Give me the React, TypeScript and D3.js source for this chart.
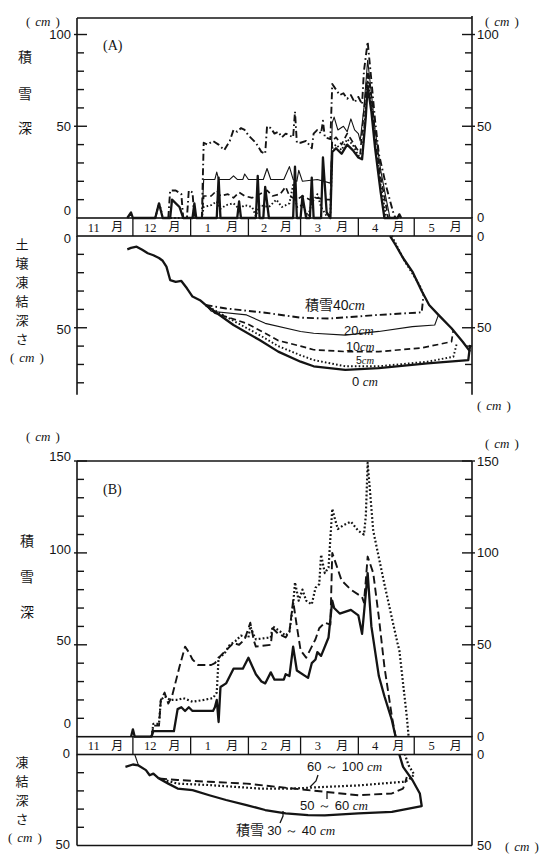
import React from 'react';
import * as d3 from 'd3';

type P = [string, number];

// ---------- categories / ticks ----------
const monthNames = ['11', '12', '1', '2', '3', '4', '5'];
const monthStarts = ['11-01', '12-01', '01-01', '02-01', '03-01', '04-01', '05-01', '06-01'];
const snowATicks = [10, 20, 30, 40, 50, 60, 70, 80, 90, 100];
const snowATickLabels = [0, 50, 100];
const frostATicks = [10, 20, 30, 40, 50, 60, 70, 80];
const frostATickLabels = [0, 50];
const snowBTicks = [10, 20, 30, 40, 50, 60, 70, 80, 90, 100, 110, 120, 130, 140, 150];
const snowBTickLabels = [0, 50, 100, 150];
const frostBTicks = [10, 20, 30, 40];
const frostBTickLabels = [0, 50];

// ---------- Panel A : snow depth (cm) ----------
const snowA40: P[] = [["12-20",0],["12-21",15],["12-24",15],["12-27",13],["12-28",0],["12-30",0],["12-31",15],["01-02",14],["01-03",0],["01-07",0],["01-08",41],["01-10",40],["01-13",42],["01-16",40],["01-19",37],["01-22",42],["01-24",48],["01-26",47],["01-28",49],["01-30",48],["02-01",45],["02-03",43],["02-05",41],["02-08",36],["02-10",35],["02-11",50],["02-13",49],["02-15",46],["02-17",47],["02-19",44],["02-21",46],["02-23",45],["02-25",44],["02-26",58],["02-27",41],["03-01",41],["03-04",42],["03-07",38],["03-08",46],["03-10",48],["03-12",46],["03-13",53],["03-14",44],["03-17",43],["03-18",73],["03-20",70],["03-22",67],["03-24",68],["03-26",65],["03-28",67],["03-30",63],["04-01",66],["04-03",62],["04-04",80],["04-06",96],["04-08",75],["04-10",53],["04-12",35],["04-16",17],["04-20",2],["04-21",0]];
const snowA20: P[] = [["01-07",0],["01-08",21],["01-14",21],["01-15",25],["01-16",21],["01-22",21],["01-24",23],["01-26",21],["01-29",21],["01-30",24],["02-01",21],["02-09",21],["02-11",27],["02-13",21],["02-20",21],["02-23",28],["02-25",21],["02-27",20],["02-28",26],["03-02",20],["03-10",21],["03-17",19],["03-18",52],["03-19",55],["03-21",48],["03-24",50],["03-26",47],["03-28",54],["03-30",48],["04-01",46],["04-02",42],["04-04",60],["04-06",86],["04-08",68],["04-10",48],["04-13",26],["04-16",10],["04-18",0]];
const snowA10: P[] = [["01-07",0],["01-08",12],["01-12",12],["01-15",15],["01-17",12],["01-21",13],["01-24",11],["01-27",14],["01-30",12],["02-03",11],["02-07",13],["02-11",15],["02-14",12],["02-18",13],["02-21",17],["02-23",12],["02-27",10],["03-02",12],["03-06",10],["03-10",11],["03-14",10],["03-17",10],["03-18",42],["03-20",44],["03-23",40],["03-26",46],["03-28",43],["03-31",38],["04-02",35],["04-04",58],["04-06",80],["04-08",66],["04-10",43],["04-13",22],["04-16",6],["04-17",0]];
const snowA5: P[] = [["12-13",0],["12-15",8],["12-16",5],["12-17",0],["01-07",0],["01-08",6],["01-12",7],["01-15",9],["01-17",5],["01-20",7],["01-24",8],["01-27",5],["01-30",7],["02-03",6],["02-05",1],["02-07",7],["02-12",6],["02-16",10],["02-19",6],["02-23",8],["02-25",18],["02-27",6],["03-02",7],["03-05",1],["03-07",8],["03-10",13],["03-12",6],["03-15",1],["03-17",2],["03-18",38],["03-20",40],["03-23",37],["03-26",43],["03-29",40],["04-01",34],["04-03",33],["04-05",60],["04-06",75],["04-08",62],["04-10",40],["04-13",18],["04-16",0]];
const snowA0: P[] = [["11-28",0],["11-30",3],["12-01",0],["12-13",0],["12-15",8],["12-17",0],["12-21",0],["12-22",10],["12-26",6],["12-28",0],["01-02",0],["01-03",8],["01-04",0],["01-15",0],["01-16",22],["01-17",0],["01-26",0],["01-27",9],["01-28",0],["02-05",0],["02-06",23],["02-07",0],["02-09",0],["02-10",17],["02-12",0],["02-25",0],["02-26",28],["02-27",0],["03-01",0],["03-02",12],["03-04",0],["03-06",0],["03-07",22],["03-08",0],["03-12",0],["03-13",33],["03-15",3],["03-17",0],["03-18",36],["03-20",38],["03-23",35],["03-26",40],["03-29",37],["04-01",33],["04-03",32],["04-05",55],["04-06",72],["04-08",58],["04-10",38],["04-13",14],["04-15",0],["04-22",0],["04-23",2],["04-24",0]];

// ---------- Panel A : frost depth (cm) ----------
const frostAShared: P[] = [["11-28",7.3],["11-30",6.5],["12-03",5.8],["12-06",7.5],["12-09",9.4],["12-12",10.5],["12-15",12],["12-17",13.5],["12-19",16.7],["12-21",24],["12-24",25],["12-27",24.5],["12-30",28.5],["01-02",33],["01-06",35],["01-09",37.6]];
const frostA40: P[] = [["01-09",37.6],["01-20",39.5],["02-10",41.8],["03-01",44.5],["03-16",45],["04-12",43],["05-05",41.6],["05-06",32]];
const frostA20: P[] = [["01-09",37.6],["01-12",41],["01-31",43],["02-10",47.6],["03-01",52],["03-08",53],["03-25",54],["04-12",52],["04-30",49.4],["05-12",48.5],["05-14",43]];
const frostA10: P[] = [["01-09",37.6],["01-14",42],["01-31",47.6],["02-10",53],["02-17",57],["03-01",60],["03-08",62],["03-25",63],["04-12",63],["05-05",61],["05-21",57.6],["05-22",51]];
const frostA5: P[] = [["01-09",37.6],["01-20",44],["02-07",54],["02-17",60],["03-01",65],["03-08",67.6],["03-25",71],["04-12",71],["05-08",68.5],["05-22",65.8],["05-24",58]];
const frostA0: P[] = [["01-09",37.6],["01-24",48.5],["02-07",56.7],["02-17",63],["03-01",68.5],["03-08",71],["03-25",73],["04-12",72],["05-08",69.4],["05-30",67.6],["05-31",59.4]];
const frostAThaw: P[] = [["04-18",0],["04-21",4.9],["04-25",12],["04-30",19.4],["05-05",30],["05-09",37.6],["05-14",43],["05-21",50.3],["05-27",57.6],["05-31",63]];
const frostAThaw2: P[] = [["04-19",0],["04-22",6],["04-26",14],["05-01",22],["05-04",27],["05-06",32]];

// ---------- Panel B : snow depth (cm) ----------
const snowBSolid: P[] = [["11-30",0],["12-01",4],["12-02",0],["12-11",0],["12-12",3],["12-23",3],["12-25",15],["12-27",16],["12-29",14],["12-31",16],["01-02",14],["01-13",14],["01-14",16],["01-15",20],["01-16",8],["01-17",27],["01-20",29],["01-24",37],["01-29",37],["02-01",43],["02-05",34],["02-08",30],["02-10",29],["02-13",35],["02-15",31],["02-20",31],["02-21",34],["02-23",33],["02-25",49],["02-27",36],["03-05",32],["03-07",40],["03-09",42],["03-10",46],["03-12",44],["03-16",54],["03-18",74],["03-19",70],["03-22",67],["03-28",69],["04-01",66],["04-03",56],["04-05",78],["04-06",89],["04-08",60],["04-12",33],["04-15",22],["04-19",9],["04-21",0]];
const snowBDashed: P[] = [["12-11",0],["12-12",6],["12-15",6],["12-16",20],["12-18",24],["12-20",18],["12-22",22],["12-26",38],["12-29",49],["12-31",46],["01-02",42],["01-05",39],["01-12",39],["01-14",40],["01-17",44],["01-20",47],["01-24",51],["01-27",50],["01-30",53],["02-02",62],["02-04",52],["02-05",49],["02-13",50],["02-14",59],["02-17",56],["02-21",54],["02-23",57],["02-25",74],["02-27",60],["03-01",47],["03-04",43],["03-07",49],["03-09",53],["03-11",59],["03-14",62],["03-17",61],["03-18",100],["03-20",94],["03-23",85],["03-28",80],["04-03",76],["04-04",73],["04-05",85],["04-06",98],["04-09",89],["04-12",65],["04-15",38],["04-19",11],["04-21",0]];
const snowBDotted: P[] = [["12-11",0],["12-12",7],["12-15",7],["12-16",20],["12-18",22],["12-21",20],["12-25",20],["12-28",21],["01-02",19],["01-08",20],["01-13",21],["01-15",24],["01-16",43],["01-19",45],["01-22",50],["01-25",52],["01-28",55],["02-01",54],["02-02",60],["02-04",55],["02-05",53],["02-13",54],["02-14",60],["02-17",58],["02-21",55],["02-23",57],["02-25",72],["02-26",84],["02-28",74],["03-02",80],["03-04",74],["03-07",72],["03-09",81],["03-11",83],["03-12",99],["03-14",89],["03-16",92],["03-18",124],["03-19",120],["03-21",113],["03-24",115],["03-28",117],["04-01",112],["04-04",110],["04-05",120],["04-06",149],["04-09",112],["04-15",83],["04-20",60],["04-22",51],["04-23",47],["04-25",29],["04-27",11],["04-28",0]];

// ---------- Panel B : frost depth (cm) ----------
const frostBStart: P[] = [["12-02",0],["12-03",3],["12-04",6]];
const frostBShared: P[] = [["11-27",6.8],["12-01",5.5],["12-04",6],["12-08",8.6],["12-10",11.4],["12-12",10.5],["12-15",13.2]];
const frostBSolid: P[] = [["12-15",13.2],["12-20",16],["12-25",18.7],["01-02",19.6],["01-11",22.4],["01-20",25],["01-31",27.8],["02-10",30.5],["02-21",32.4],["03-05",33.3],["03-14",33.5],["04-01",32.4],["04-19",31.5],["05-05",28.3],["05-04",21.4],["04-30",14],["04-25",6.8],["04-23",0]];
const frostBDashed: P[] = [["12-15",13.2],["12-25",14],["01-11",15],["01-31",16],["02-25",18.7],["03-14",20.5],["04-01",22.4],["04-19",21.4],["04-25",18.7],["04-26",16],["04-27",12.3]];
const frostBDotted: P[] = [["12-15",13.2],["12-25",16],["01-11",16.8],["02-07",18.7],["02-25",18.7],["03-14",17.8],["04-01",17],["04-25",15],["04-28",14],["05-01",11],["04-28",6],["04-26",0]];

// ---------- helpers ----------
const parse = (s: string) => {
  const [m, d] = s.split('-').map(Number);
  return new Date(m >= 11 ? 1980 : 1981, m - 1, d);
};

const X0 = 77, X1 = 472;
const x = d3.scaleTime().domain([parse('11-01'), parse('06-01')]).range([X0, X1]);
const ySnowA = d3.scaleLinear().domain([0, 109]).range([218, 18]);
const yFrostA = d3.scaleLinear().domain([0, 50]).range([236, 327.75]);
const ySnowB = d3.scaleLinear().domain([0, 150]).range([736.7, 461]);
const yFrostB = d3.scaleLinear().domain([0, 50]).range([754.5, 845.5]);

const INK = '#141414';
const SANS = '"Liberation Sans", Arial, sans-serif';
const SERIF = '"Liberation Serif", "DejaVu Serif", serif';
const CJK = '"Noto Sans CJK JP", sans-serif';

const styles: Record<string, { w: number; dash?: string }> = {
  thick: { w: 2.3 },
  thin: { w: 1.1 },
  dashdot: { w: 1.9, dash: '7,3,1.6,3' },
  dashed: { w: 1.7, dash: '6,3.5' },
  dotted: { w: 1.9, dash: '1.6,2.2' },
  bdashed: { w: 1.9, dash: '8,4' },
  bdotted: { w: 2.2, dash: '1.8,2.2' },
};

function Series({ data, y, kind }: { data: P[]; y: d3.ScaleLinear<number, number>; kind: string }) {
  const gen = d3.line<P>().x(p => x(parse(p[0]))).y(p => y(p[1])).curve(d3.curveLinear);
  const st = styles[kind];
  return <path d={gen(data) || ''} fill="none" stroke={INK} strokeWidth={st.w} strokeDasharray={st.dash} strokeLinejoin="round" />;
}

function VAxis({ xPos, y, ticks, side, y0, y1 }: { xPos: number; y: d3.ScaleLinear<number, number>; ticks: number[]; side: 'left' | 'right'; y0: number; y1: number }) {
  const dir = side === 'left' ? 1 : -1;
  return (
    <g>
      <line x1={xPos} x2={xPos} y1={y0} y2={y1} stroke={INK} strokeWidth={1.6} />
      {ticks.map(t => {
        const major = t % 50 === 0;
        return <line key={t} x1={xPos - (major ? 3 : 0) * dir} x2={xPos + (major ? 10 : 7) * dir} y1={y(t)} y2={y(t)} stroke={INK} strokeWidth={1.4} />;
      })}
    </g>
  );
}

function Cm({ x0, yc, size = 13 }: { x0: number; yc: number; size?: number }) {
  return (
    <text x={x0} y={yc} dy="0.35em" fontFamily={SERIF} fontSize={size} fill={INK}>
      (<tspan dx={5} fontStyle="italic">cm</tspan><tspan dx={5}>)</tspan>
    </text>
  );
}

function MonthStrip({ top, bottom }: { top: number; bottom: number }) {
  const dates = monthStarts.map(parse);
  return (
    <g>
      <rect x={X0} y={top} width={X1 - X0} height={bottom - top} fill="none" stroke={INK} strokeWidth={1.6} />
      {dates.slice(1, -1).map((d, i) => (
        <line key={i} x1={x(d)} x2={x(d)} y1={top} y2={bottom} stroke={INK} strokeWidth={1.3} />
      ))}
      {monthNames.map((m, i) => {
        const a = x(dates[i]);
        const b = x(dates[i + 1]);
        const yb = (top + bottom) / 2;
        return (
          <g key={m}>
            <text x={a + (b - a) * 0.3} y={yb} dy="0.36em" textAnchor="middle" fontFamily={SERIF} fontSize={12.5} fill={INK}>{m}</text>
            <text x={a + (b - a) * 0.72} y={yb} dy="0.36em" textAnchor="middle" fontFamily={CJK} fontSize={12} fill={INK}>月</text>
          </g>
        );
      })}
    </g>
  );
}

function VText({ chars, xc, ys, size = 13 }: { chars: string[]; xc: number; ys: number[]; size?: number }) {
  return (
    <g>
      {chars.map((c, i) => (
        <text key={i} x={xc} y={ys[i]} dy="0.36em" textAnchor="middle" fontFamily={CJK} fontSize={size} fill={INK}>{c}</text>
      ))}
    </g>
  );
}

function NumLabel({ xp, yp, v, anchor }: { xp: number; yp: number; v: number | string; anchor: 'start' | 'end' }) {
  return <text x={xp} y={yp} dy="0.35em" textAnchor={anchor} fontFamily={SANS} fontSize={13} fill={INK}>{v}</text>;
}

export default function App() {
  const leftLabelOffsetA: Record<number, number> = { 0: -8, 50: 0, 100: 0 };
  const leftLabelOffsetB: Record<number, number> = { 0: -13, 50: -4, 100: -3, 150: -5 };
  return (
    <svg width={543} height={854} viewBox="0 0 543 854" style={{ position: 'absolute', left: 0, top: 0, background: '#fff' }}>
      <rect x={0} y={0} width={543} height={854} fill="#fff" />

      {/* ================= Panel A ================= */}
      <line x1={X0} x2={X1} y1={18} y2={18} stroke={INK} strokeWidth={1.6} />
      <VAxis xPos={X0} y={ySnowA} ticks={snowATicks} side="left" y0={18} y1={218} />
      <VAxis xPos={X1} y={ySnowA} ticks={snowATicks} side="right" y0={16} y1={218} />
      <VAxis xPos={X0} y={yFrostA} ticks={frostATicks} side="left" y0={236} y1={yFrostA(86.5)} />
      <VAxis xPos={X1} y={yFrostA} ticks={frostATicks} side="right" y0={236} y1={yFrostA(86.5)} />
      <MonthStrip top={218} bottom={236} />

      {snowATickLabels.map(t => <NumLabel key={'al' + t} xp={71} yp={ySnowA(t) + leftLabelOffsetA[t]} v={t} anchor="end" />)}
      {snowATickLabels.map(t => <NumLabel key={'ar' + t} xp={477} yp={ySnowA(t) - (t === 0 ? 1 : 0)} v={t} anchor="start" />)}
      {frostATickLabels.map(t => <NumLabel key={'fal' + t} xp={71} yp={yFrostA(t) + 2} v={t} anchor="end" />)}
      {frostATickLabels.map(t => <NumLabel key={'far' + t} xp={477} yp={yFrostA(t)} v={t} anchor="start" />)}

      <Cm x0={26} yc={21} />
      <Cm x0={485} yc={21} />
      <Cm x0={477} yc={405} />
      <Cm x0={10} yc={357} />
      <VText chars={['積', '雪', '深']} xc={25} ys={[57, 94, 128]} size={14} />
      <VText chars={['土', '壌', '凍', '結', '深', 'さ']} xc={22} ys={[244, 263, 282, 301, 320, 339]} size={13} />
      <text x={103} y={50} fontFamily={SERIF} fontSize={14} fill={INK}>(A)</text>

      <Series data={snowA0} y={ySnowA} kind="thick" />
      <Series data={snowA5} y={ySnowA} kind="dotted" />
      <Series data={snowA10} y={ySnowA} kind="dashed" />
      <Series data={snowA20} y={ySnowA} kind="thin" />
      <Series data={snowA40} y={ySnowA} kind="dashdot" />

      <Series data={frostAShared} y={yFrostA} kind="thick" />
      <Series data={frostA40} y={yFrostA} kind="dashdot" />
      <Series data={frostA20} y={yFrostA} kind="thin" />
      <Series data={frostA10} y={yFrostA} kind="dashed" />
      <Series data={frostA5} y={yFrostA} kind="dotted" />
      <Series data={frostA0} y={yFrostA} kind="thick" />
      <Series data={frostAThaw} y={yFrostA} kind="thick" />
      <Series data={frostAThaw2} y={yFrostA} kind="dotted" />

      <text x={305} y={310} fontFamily={CJK} fontSize={14} fill={INK}>積雪<tspan fontFamily={SANS} fontSize={14}>40</tspan><tspan fontFamily={SERIF} fontStyle="italic" fontSize={14}>cm</tspan></text>
      <text x={344} y={335} fontFamily={SANS} fontSize={13} fill={INK}>20<tspan fontFamily={SERIF} fontStyle="italic">cm</tspan></text>
      <text x={346} y={351} fontFamily={SANS} fontSize={12.5} fill={INK}>10<tspan fontFamily={SERIF} fontStyle="italic">cm</tspan></text>
      <text x={356} y={364} fontFamily={SANS} fontSize={10.5} fill={INK}>5<tspan fontFamily={SERIF} fontStyle="italic">cm</tspan></text>
      <text x={352} y={386} fontFamily={SANS} fontSize={13} fill={INK}>0 <tspan fontFamily={SERIF} fontStyle="italic">cm</tspan></text>

      {/* ================= Panel B ================= */}
      <line x1={X0} x2={X1} y1={461} y2={461} stroke={INK} strokeWidth={1.6} />
      <VAxis xPos={X0} y={ySnowB} ticks={snowBTicks} side="left" y0={461} y1={736.7} />
      <VAxis xPos={X1} y={ySnowB} ticks={snowBTicks} side="right" y0={461} y1={736.7} />
      <VAxis xPos={X0} y={yFrostB} ticks={frostBTicks} side="left" y0={754.5} y1={845.5} />
      <VAxis xPos={X1} y={yFrostB} ticks={[]} side="right" y0={754.5} y1={845.5} />
      <line x1={X0} x2={X1} y1={845.5} y2={845.5} stroke={INK} strokeWidth={1.6} />
      <MonthStrip top={736.7} bottom={754.5} />

      {snowBTickLabels.map(t => <NumLabel key={'bl' + t} xp={71} yp={ySnowB(t) + leftLabelOffsetB[t]} v={t} anchor="end" />)}
      {snowBTickLabels.map(t => <NumLabel key={'br' + t} xp={477} yp={ySnowB(t)} v={t} anchor="start" />)}
      {frostBTickLabels.map(t => <NumLabel key={'fbl' + t} xp={70} yp={yFrostB(t) - 1} v={t} anchor="end" />)}
      {frostBTickLabels.map(t => <NumLabel key={'fbr' + t} xp={477} yp={yFrostB(t)} v={t} anchor="start" />)}

      <Cm x0={26} yc={436} />
      <Cm x0={485} yc={443} />
      <Cm x0={505} yc={846} />
      <Cm x0={8} yc={837} />
      <VText chars={['積', '雪', '深']} xc={27} ys={[541, 577, 612]} size={14} />
      <VText chars={['凍', '結', '深', 'さ']} xc={22} ys={[762, 781, 800, 819]} size={13} />
      <text x={103} y={494} fontFamily={SERIF} fontSize={14} fill={INK}>(B)</text>

      <Series data={snowBSolid} y={ySnowB} kind="thick" />
      <Series data={snowBDashed} y={ySnowB} kind="bdashed" />
      <Series data={snowBDotted} y={ySnowB} kind="bdotted" />

      <Series data={frostBStart} y={yFrostB} kind="thin" />
      <Series data={frostBShared} y={yFrostB} kind="thick" />
      <Series data={frostBSolid} y={yFrostB} kind="thick" />
      <Series data={frostBDashed} y={yFrostB} kind="bdashed" />
      <Series data={frostBDotted} y={yFrostB} kind="bdotted" />

      <text x={307} y={771} fontFamily={SANS} fontSize={13} fill={INK}>60 ～ 100 <tspan fontFamily={SERIF} fontStyle="italic">cm</tspan></text>
      <path d="M318,775 L316,781 L310,787" fill="none" stroke={INK} strokeWidth={1.3} />
      <text x={300} y={810} fontFamily={SANS} fontSize={13} fill={INK}>50 ～ 60 <tspan fontFamily={SERIF} fontStyle="italic">cm</tspan></text>
      <path d="M327,799 L327,793" fill="none" stroke={INK} strokeWidth={1.3} />
      <text x={236} y={835} fontFamily={CJK} fontSize={14} fill={INK}>積雪 <tspan fontFamily={SANS} fontSize={13}>30 ～ 40 </tspan><tspan fontFamily={SERIF} fontStyle="italic" fontSize={13}>cm</tspan></text>
      <path d="M280,823 L283,816 L283,811" fill="none" stroke={INK} strokeWidth={1.3} />
    </svg>
  );
}
